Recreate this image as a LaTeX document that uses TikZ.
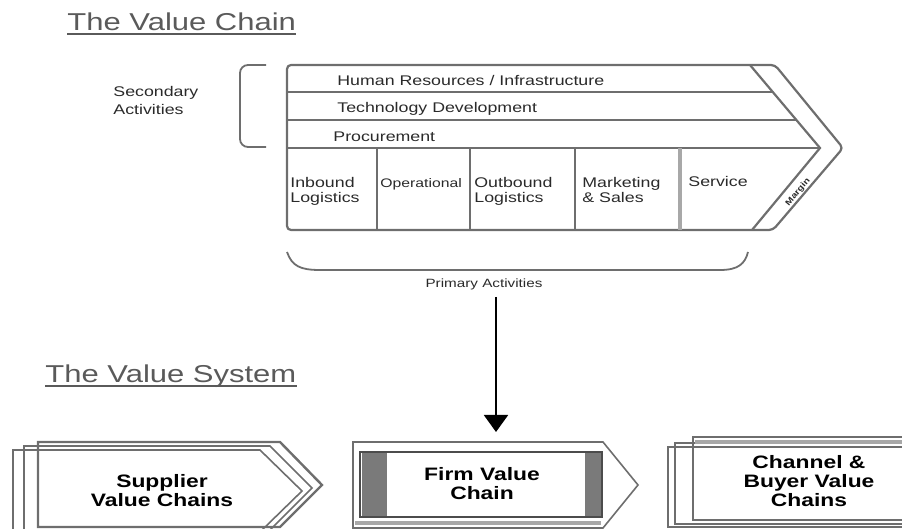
\documentclass[tikz,border=0pt]{standalone}
\usepackage{fontspec}
\setmainfont[FakeStretch=1.27]{Liberation Sans}
\usetikzlibrary{arrows.meta}

\definecolor{linegray}{HTML}{6E6E6E}
\definecolor{paleline}{HTML}{A8A8A8}
\definecolor{textgray}{HTML}{2A2A2A}
\definecolor{headgray}{HTML}{5A5A5A}
\definecolor{bargray}{HTML}{7A7A7A}

\begin{document}
\begin{tikzpicture}[x=0.5pt,y=-0.5pt,
  heading/.style={font=\fontsize{12.2}{14}\selectfont, text=headgray, inner sep=0, anchor=base west},
  headrule/.style={draw=headgray, line width=0.8pt},
  chainline/.style={draw=linegray, line width=1.1pt},
  paleedge/.style={draw=paleline, line width=1.6pt},
  bracket/.style={draw=linegray, line width=0.9pt},
  small/.style={font=\fontsize{7}{7.5}\selectfont, text=textgray, inner sep=0, align=left, anchor=north west},
  boxtext/.style={font=\bfseries\fontsize{9}{9.5}\selectfont, text=black, inner sep=0, align=center},
  backshape/.style={draw=linegray, line width=0.8pt},
  frontshape/.style={draw=linegray, line width=1.2pt},
  flowarrow/.style={draw=black, line width=1pt, -{Triangle[length=8.5pt,width=12pt]}}
]
\useasboundingbox (0,0) rectangle (902,529);
\clip (0,0) rectangle (902,529);

% ---------- headings ----------
\node[heading] (vctitle) at (67,31) {The Value Chain};
\draw[headrule] ([yshift=-1.5pt]vctitle.base west) -- ([yshift=-1.5pt]vctitle.base east);
\node[heading] (vstitle) at (45,383) {The Value System};
\draw[headrule] ([yshift=-1.5pt]vstitle.base west) -- ([yshift=-1.5pt]vstitle.base east);

% ---------- value chain body ----------
\draw[chainline, rounded corners=2pt] (287,65) -- (775,65) -- (843,148) -- (773,230) -- (287,230) -- cycle;
\draw[chainline] (750,65) -- (820,148) -- (752,230);
% support activity rows
\draw[chainline] (287,92) -- (772.8,92);
\draw[chainline] (287,120) -- (796.4,120);
\draw[chainline] (287,148) -- (820,148);
% primary activity columns
\draw[chainline] (377,148) -- (377,230);
\draw[chainline] (470,148) -- (470,230);
\draw[chainline] (575,148) -- (575,230);
\draw[paleedge] (680,148) -- (680,230);

% support activity labels
\node[small] (hr)   at (337,75)  {Human Resources / Infrastructure};
\node[small] (tech) at (337,102) {Technology Development};
\node[small] (proc) at (333,131) {Procurement};

% primary activity labels
\node[small] (inbound)  at (290,177) {Inbound\\Logistics};
\node[small, font=\fontsize{6.2}{7.5}\selectfont] (ops) at (380,178) {Operational};
\node[small] (outbound) at (474,177) {Outbound\\Logistics};
\node[small] (mkt)      at (582,177) {Marketing\\\& Sales};
\node[small] (service)  at (688,176) {Service};
\node[font=\bfseries\fontsize{4}{4}\selectfont, text=textgray, inner sep=0, rotate=50] (margin) at (798,192) {Margin};

% brackets and their captions
\draw[bracket, rounded corners=4pt] (266,65) -- (240,65) -- (240,147) -- (266,147);
\node[small, font=\fontsize{7}{9}\selectfont] (secondary) at (113,86) {Secondary\\Activities};
\draw[bracket] (287,252) .. controls (292,266) and (300,270) .. (320,270) -- (720,270)
  .. controls (738,270) and (745,264) .. (748,252);
\node[small, anchor=center, font=\fontsize{6}{6}\selectfont] (primary) at (484,284) {Primary Activities};

% ---------- value system ----------
% supplier chains (stacked chevrons)
\draw[backshape] (13,450) -- (260,450) -- (302,491) -- (260,532) -- (13,532) -- cycle;
\draw[backshape] (24,446) -- (270,446) -- (312,488) -- (270,530) -- (24,530) -- cycle;
\draw[frontshape] (38,442) -- (280,442) -- (322,485) -- (280,527) -- (38,527) -- cycle;
\node[boxtext] (supplier) at (162,491) {Supplier\\Value Chains};

% firm chain
\draw[backshape] (353,442) -- (603,442) -- (638,485) -- (603,528) -- (353,528) -- cycle;
\draw[paleedge] (355,523) -- (601,523);
\fill[bargray] (362,452) rectangle (387,517);
\fill[bargray] (585,452) rectangle (602,517);
\draw[frontshape, draw=black!70] (360,452) rectangle (602,517);
\node[boxtext] (firm) at (482,484) {Firm Value\\Chain};
\coordinate (firmtop) at (496,442);

% channel and buyer chains
\draw[backshape] (668,447) rectangle (920,527);
\draw[backshape] (675,443) rectangle (920,524);
\draw[frontshape, draw=linegray] (693,437) rectangle (920,520);
\draw[paleedge] (695,442) -- (920,442);
\node[boxtext] (channel) at (809,481) {Channel \&\\Buyer Value\\Chains};

% link from the chain to the system
\coordinate (arrowstart) at (496,297);
\draw[flowarrow, shorten >=5pt] (arrowstart) -- (firmtop);
\end{tikzpicture}
\end{document}
